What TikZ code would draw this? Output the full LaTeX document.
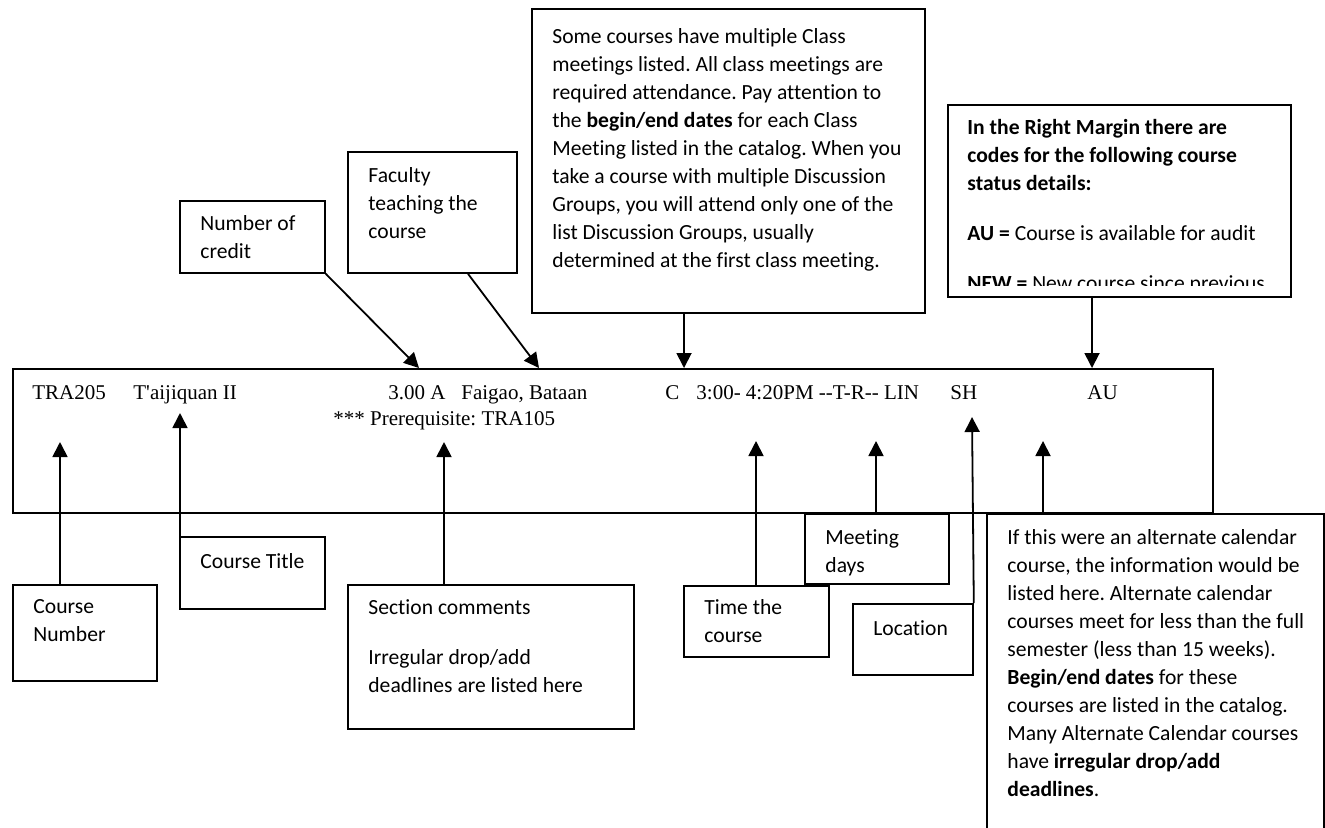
\documentclass[tikz,border=0pt]{standalone}
\usepackage{fontspec}
\setmainfont{Liberation Serif}[Ligatures=TeXOff]
\newfontfamily\calibri{Carlito}[Ligatures=NoCommon]
\usetikzlibrary{arrows.meta,calc}
\frenchspacing
\begin{document}
\begin{tikzpicture}[x=0.5pt,y=-0.5pt,
  box/.style={draw, line width=0.9pt, anchor=north west, inner sep=0pt},
  lbl/.style={anchor=north west, inner sep=0pt, align=left, execute at begin node=\strut, font=\calibri\fontsize{10.8}{14}\selectfont},
  rec/.style={anchor=base west, inner sep=0pt, font=\fontsize{10.5}{12}\selectfont},
  arr/.style={line width=0.9pt, -{Triangle[length=7.5pt,width=7.5pt]}}]
\clip (0,0) rectangle (1325,827);
% the course record
\node[box, minimum width=600pt, minimum height=72pt] (rec) at (12,368){};
\node[rec] (rNum) at (32,399){TRA205};
\node[rec] (rTitle) at (133,399){T'aijiquan II};
\node[rec] (rCred) at (388,399){3.00 A};
\node[rec] (rFac) at (461,399){Faigao, Bataan};
\node[rec] (rPre) at (333,425){*** Prerequisite: TRA105};
\node[rec] (rC) at (665,399){C};
\node[rec] (rTime) at (696,399){3:00- 4:20PM --T-R-- LIN};
\node[rec] (rLoc) at (950,399){SH};
\node[rec] (rAU) at (1087,399){AU};
% boxes above
\node[box, minimum width=72.5pt, minimum height=36pt] (credit) at (179,200){};
\node[lbl] (creditT) at ([shift={(21,15)}]credit.north west){Number of\\credit};
\node[box, minimum width=84.5pt, minimum height=60.5pt] (faculty) at (347,151){};
\node[lbl] (facultyT) at ([shift={(21,16)}]faculty.north west){Faculty\\teaching the\\course};
\node[box, minimum width=196.5pt, minimum height=152pt] (classmtg) at (531,8){};
\node[lbl] (classmtgT) at ([shift={(21,20)}]classmtg.north west){Some courses have multiple Class\\meetings listed. All class meetings are\\required attendance. Pay attention to\\the \textbf{begin/end dates} for each Class\\Meeting listed in the catalog. When you\\take a course with multiple Discussion\\Groups, you will attend only one of the\\list Discussion Groups, usually\\determined at the first class meeting.};
\node[box, minimum width=171.5pt, minimum height=96pt] (margin) at (947,104){};
\begin{scope}
\clip (947,104) rectangle (1290,285);
\node[lbl] (marginT) at ([shift={(20,15)}]margin.north west){\textbf{In the Right Margin there are}\\\textbf{codes for the following course}\\\textbf{status details:}\\[11pt]\textbf{AU =} Course is available for audit\\[11pt]\textbf{NEW =} New course since previous};
\end{scope}
% boxes below
\node[box, minimum width=72pt, minimum height=48pt] (cnum) at (12,584){};
\node[lbl] (cnumT) at ([shift={(21,15)}]cnum.north west){Course\\Number};
\node[box, minimum width=72.5pt, minimum height=36pt] (ctitle) at (179,536){};
\node[lbl] (ctitleT) at ([shift={(21,12)}]ctitle.north west){Course Title};
\node[box, minimum width=143pt, minimum height=72pt] (sect) at (347,584){};
\node[lbl] (sectT) at ([shift={(21,15)}]sect.north west){Section comments\\[11pt]Irregular drop/add\\deadlines are listed here};
\node[box, minimum width=72.5pt, minimum height=35.5pt] (ctime) at (683,585){};
\node[lbl] (ctimeT) at ([shift={(21,14)}]ctime.north west){Time the\\course};
\node[box, minimum width=72pt, minimum height=35pt] (mdays) at (804,513){};
\node[lbl] (mdaysT) at ([shift={(21,16)}]mdays.north west){Meeting\\days};
\node[box, minimum width=60pt, minimum height=35.5pt] (loc) at (852,603){};
\node[lbl] (locT) at ([shift={(21,12)}]loc.north west){Location};
\node[box, minimum width=168.5pt, minimum height=200pt] (alt) at (986,513){};
\node[lbl] (altT) at ([shift={(21,16)}]alt.north west){If this were an alternate calendar\\course, the information would be\\listed here. Alternate calendar\\courses meet for less than the full\\semester (less than 15 weeks).\\\textbf{Begin/end dates} for these\\courses are listed in the catalog.\\Many Alternate Calendar courses\\have \textbf{irregular drop/add}\\\textbf{deadlines}.};
% arrow tips
\coordinate (creditTip) at (419,368);
\coordinate (facultyTip) at (539,368);
\coordinate (classmtgTip) at (684,368);
\coordinate (marginTip) at (1092,368);
\coordinate (cnumTip) at (60,442);
\coordinate (ctitleTip) at (180,413);
\coordinate (sectTip) at (444,442);
\coordinate (ctimeTip) at (756,441);
\coordinate (mdaysTip) at (876,441);
\coordinate (locTip) at (972,417);
\coordinate (altTip) at (1043,441);
\draw[arr] (credit.south east) -- (creditTip);
\draw[arr] (faculty.south west) ++(121,0) -- (facultyTip);
\draw[arr] (classmtg.south -| classmtgTip) -- (classmtgTip);
\draw[arr] (margin.south -| marginTip) -- (marginTip);
\draw[arr] (cnum.north -| cnumTip) -- (cnumTip);
\draw[arr] (ctitle.north -| ctitleTip) -- (ctitleTip);
\draw[arr] (sect.north -| sectTip) -- (sectTip);
\draw[arr] (ctime.north -| ctimeTip) -- (ctimeTip);
\draw[arr] (mdays.north -| mdaysTip) -- (mdaysTip);
\draw[arr] (loc.north east) -- (locTip);
\draw[arr] (alt.north -| altTip) -- (altTip);
\end{tikzpicture}
\end{document}
